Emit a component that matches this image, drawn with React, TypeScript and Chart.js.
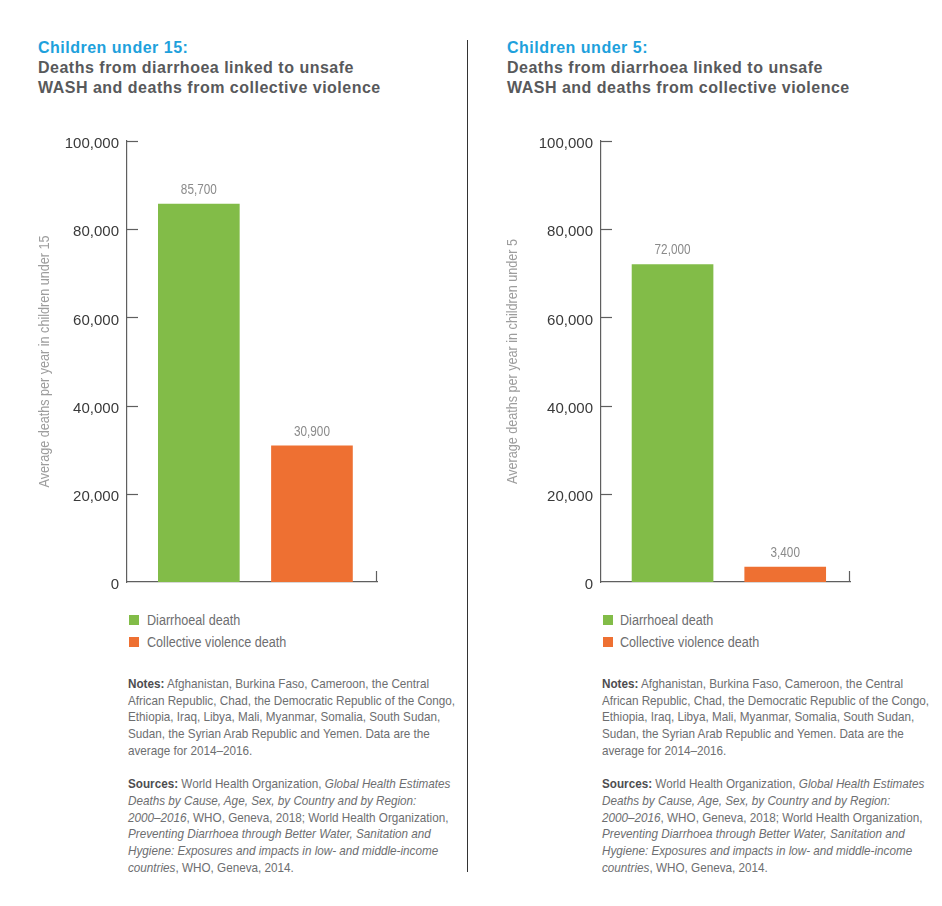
import React, { useEffect, useRef } from "react";
import { Chart, registerables } from "chart.js";

Chart.register(...registerables);

// ---------- data ----------
const categories = ["Diarrhoeal death", "Collective violence death"];
const under15Values = [85700, 30900];
const under5Values = [72000, 3400];
const under15Labels = ["85,700", "30,900"];
const under5Labels = ["72,000", "3,400"];
const yMin = 0;
const yMax = 100000;
const yStep = 20000;
const barColors = ["#82bc48", "#ee7032"];

// ---------- styles ----------
const AXIS = "#5f5f5f";
const SANS = "'Liberation Sans', Arial, sans-serif";
const CYAN = "#1ea1dc";
const TITLE_GRAY = "#58595b";
const TEXT_GRAY = "#6d6e70";
const NARROW_SCALE = 0.9;

function makeDecor(labels: string[], axisTitle: string, titleX: number) {
  return {
    id: "decor",
    afterDraw(chart: any) {
      const ctx = chart.ctx;
      const area = chart.chartArea;
      const y = chart.scales.y;
      ctx.save();
      ctx.strokeStyle = AXIS;
      ctx.lineWidth = 1.2;
      // inward tick marks on y axis
      y.ticks.forEach((t: any) => {
        if (t.value === 0) return;
        const py = Math.round(y.getPixelForValue(t.value)) + 0.5;
        ctx.beginPath();
        ctx.moveTo(area.left, py);
        ctx.lineTo(area.left + 11, py);
        ctx.stroke();
      });
      // small end tick on x axis
      ctx.beginPath();
      ctx.moveTo(area.right - 0.5, area.bottom);
      ctx.lineTo(area.right - 0.5, area.bottom - 11);
      ctx.stroke();
      ctx.restore();

      // value labels (condensed)
      const meta = chart.getDatasetMeta(0);
      meta.data.forEach((bar: any, i: number) => {
        ctx.save();
        ctx.translate(bar.x, bar.y - 10);
        ctx.scale(0.84, 1);
        ctx.fillStyle = "#8a8a8a";
        ctx.font = `14px ${SANS}`;
        ctx.textAlign = "center";
        ctx.textBaseline = "alphabetic";
        ctx.fillText(labels[i], 0, 0);
        ctx.restore();
      });

      // y axis title (condensed, rotated)
      ctx.save();
      ctx.translate(titleX, (area.top + area.bottom) / 2);
      ctx.rotate(-Math.PI / 2);
      ctx.scale(NARROW_SCALE, 1);
      ctx.fillStyle = "#9d9d9d";
      ctx.font = `14px ${SANS}`;
      ctx.textAlign = "center";
      ctx.textBaseline = "middle";
      ctx.fillText(axisTitle, 0, 0);
      ctx.restore();
    },
  };
}

function BarPanel(props: {
  values: number[];
  labels: string[];
  axisTitle: string;
  titleX: number;
  left: number;
  width: number;
}) {
  const ref = useRef<HTMLCanvasElement | null>(null);
  useEffect(() => {
    if (!ref.current) return;
    const chart = new Chart(ref.current, {
      type: "bar",
      data: {
        labels: categories,
        datasets: [
          {
            data: props.values.map((v, i) => ({ x: i, y: v })) as any,
            backgroundColor: barColors,
            borderWidth: 0,
            barThickness: 81,
          },
        ],
      },
      options: {
        animation: false,
        responsive: false,
        maintainAspectRatio: false,
        layout: { padding: { top: 21, bottom: 18, left: 0, right: 8 } },
        plugins: { legend: { display: false }, tooltip: { enabled: false } },
        scales: {
          x: {
            type: "linear",
            min: -0.635,
            max: 1.575,
            offset: false,
            ticks: { display: false },
            grid: { display: false, drawTicks: false },
            border: { display: true, color: AXIS, width: 1.2 },
            afterFit: (s: any) => {
              s.height = 0;
            },
          },
          y: {
            min: yMin,
            max: yMax,
            ticks: {
              stepSize: yStep,
              padding: 8,
              labelOffset: 3,
              color: "#3a3a3a",
              font: { family: SANS, size: 15 },
              callback: (v: any) => Number(v).toLocaleString("en-US"),
            },
            grid: { display: false, drawTicks: false },
            border: { display: true, color: AXIS, width: 1.2 },
            title: { display: false },
            afterFit: (s: any) => {
              s.width = 97;
            },
          },
        },
      } as any,
      plugins: [makeDecor(props.labels, props.axisTitle, props.titleX)],
    });
    return () => chart.destroy();
  }, []);
  return (
    <canvas
      ref={ref}
      width={props.width}
      height={480}
      style={{ position: "absolute", left: props.left, top: 120, width: props.width, height: 480 }}
    />
  );
}

function Title(props: { left: number; head: string }) {
  return (
    <div
      style={{
        position: "absolute",
        left: props.left,
        top: 38,
        fontFamily: SANS,
        fontWeight: "bold",
        fontSize: 16,
        letterSpacing: "0.5px",
        lineHeight: "20px",
        whiteSpace: "nowrap",
      }}
    >
      <div style={{ color: CYAN }}>{props.head}</div>
      <div style={{ color: TITLE_GRAY }}>Deaths from diarrhoea linked to unsafe</div>
      <div style={{ color: TITLE_GRAY }}>WASH and deaths from collective violence</div>
    </div>
  );
}

function Legend(props: { left: number; textLeft: number }) {
  return (
    <div style={{ position: "absolute", left: 0, top: 0 }}>
      {categories.map((c, i) => (
        <React.Fragment key={c}>
          <div
            style={{
              position: "absolute",
              left: props.left,
              top: 615 + i * 21.5,
              width: 10,
              height: 10,
              background: barColors[i],
            }}
          />
          <div
            style={{
              position: "absolute",
              left: props.textLeft,
              top: 610 + i * 21.5,
              lineHeight: "21.5px",
              fontSize: 14,
              fontFamily: SANS,
              color: TEXT_GRAY,
              whiteSpace: "nowrap",
              transform: `scaleX(${NARROW_SCALE})`,
              transformOrigin: "left top",
            }}
          >
            {c}
          </div>
        </React.Fragment>
      ))}
    </div>
  );
}

function Notes(props: { left: number }) {
  const b = { fontWeight: "bold" as const, color: "#4d4d4f" };
  return (
    <div
      style={{
        position: "absolute",
        left: props.left,
        top: 676,
        fontFamily: SANS,
        fontSize: 13,
        lineHeight: "16.7px",
        color: TEXT_GRAY,
        whiteSpace: "nowrap",
        transform: `scaleX(${NARROW_SCALE})`,
        transformOrigin: "left top",
      }}
    >
      <div>
        <span style={b}>Notes:</span> Afghanistan, Burkina Faso, Cameroon, the Central
      </div>
      <div>African Republic, Chad, the Democratic Republic of the Congo,</div>
      <div>Ethiopia, Iraq, Libya, Mali, Myanmar, Somalia, South Sudan,</div>
      <div>Sudan, the Syrian Arab Republic and Yemen. Data are the</div>
      <div>average for 2014–2016.</div>
      <div style={{ height: 16.7 }} />
      <div>
        <span style={b}>Sources:</span> World Health Organization, <i>Global Health Estimates</i>
      </div>
      <div>
        <i>Deaths by Cause, Age, Sex, by Country and by Region:</i>
      </div>
      <div>
        <i>2000–2016</i>, WHO, Geneva, 2018; World Health Organization,
      </div>
      <div>
        <i>Preventing Diarrhoea through Better Water, Sanitation and</i>
      </div>
      <div>
        <i>Hygiene: Exposures and impacts in low- and middle-income</i>
      </div>
      <div>
        <i>countries</i>, WHO, Geneva, 2014.
      </div>
    </div>
  );
}

export default function App() {
  return (
    <div
      style={{
        position: "absolute",
        left: 0,
        top: 0,
        width: 942,
        height: 906,
        background: "#ffffff",
        overflow: "hidden",
      }}
    >
      <Title left={38} head="Children under 15:" />
      <Title left={507} head="Children under 5:" />
      <BarPanel
        values={under15Values}
        labels={under15Labels}
        axisTitle="Average deaths per year in children under 15"
        titleX={15.5}
        left={30}
        width={355}
      />
      <BarPanel
        values={under5Values}
        labels={under5Labels}
        axisTitle="Average deaths per year in children under 5"
        titleX={9.5}
        left={504}
        width={354}
      />
      <Legend left={129} textLeft={146.5} />
      <Legend left={603} textLeft={619.5} />
      <Notes left={128} />
      <Notes left={602} />
      <div style={{ position: "absolute", left: 467, top: 40, width: 1, height: 832, background: "#333" }} />
    </div>
  );
}
